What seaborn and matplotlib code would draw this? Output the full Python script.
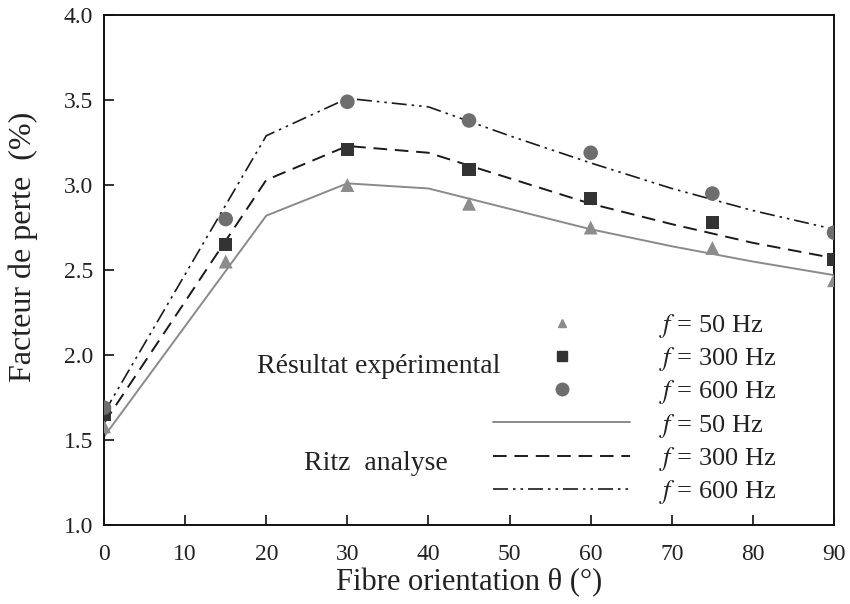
import matplotlib
matplotlib.use("Agg")
import matplotlib.pyplot as plt
import seaborn as sns
from matplotlib.lines import Line2D

# Experimental loss factor (%) versus fibre orientation
theta_exp = [0, 15, 30, 45, 60, 75, 90]
exp_50 = [1.58, 2.55, 3.00, 2.89, 2.75, 2.63, 2.44]
exp_300 = [1.65, 2.65, 3.21, 3.09, 2.92, 2.78, 2.56]
exp_600 = [1.69, 2.80, 3.49, 3.38, 3.19, 2.95, 2.72]

# Ritz analysis curves
theta_ritz = [0, 20, 30, 40, 50, 60, 70, 80, 90]
ritz_50 = [1.52, 2.82, 3.01, 2.98, 2.86, 2.74, 2.64, 2.55, 2.47]
ritz_300 = [1.60, 3.03, 3.23, 3.19, 3.04, 2.89, 2.77, 2.66, 2.57]
ritz_600 = [1.66, 3.29, 3.51, 3.46, 3.29, 3.13, 2.98, 2.85, 2.74]

x_ticks = [0, 10, 20, 30, 40, 50, 60, 70, 80, 90]
y_ticks = [1.0, 1.5, 2.0, 2.5, 3.0, 3.5, 4.0]
freq_labels = ["50 Hz", "300 Hz", "600 Hz"]

sns.set_theme(style="ticks")
plt.rcParams["font.family"] = ["Liberation Serif", "DejaVu Serif"]
plt.rcParams["mathtext.fontset"] = "stix"

fig = plt.figure(figsize=(8.5, 6.04), dpi=100)
ax = fig.add_axes([0.1224, 0.1308, 0.8588, 0.8442])

c_tri = "#8c8c8c"
c_sq = "#333333"
c_circ = "#6e6e6e"
dashdotdot = (0, (9, 3, 1.5, 3, 1.5, 3))

sns.lineplot(x=theta_ritz, y=ritz_50, ax=ax, color="#8a8a8a", lw=1.4)
sns.lineplot(x=theta_ritz, y=ritz_300, ax=ax, color="#1a1a1a", lw=1.4,
             linestyle=(0, (7, 4)))
sns.lineplot(x=theta_ritz, y=ritz_600, ax=ax, color="#1a1a1a", lw=1.2,
             linestyle=dashdotdot)

sns.scatterplot(x=theta_exp, y=exp_50, ax=ax, marker="^", s=100,
                color=c_tri, edgecolor="none", zorder=5)
sns.scatterplot(x=theta_exp, y=exp_300, ax=ax, marker="s", s=90,
                color=c_sq, edgecolor="none", zorder=5)
sns.scatterplot(x=theta_exp, y=exp_600, ax=ax, marker="o", s=110,
                color=c_circ, edgecolor="none", zorder=5)

ax.set_xlim(0, 90)
ax.set_ylim(1.0, 4.0)
ax.set_xticks(x_ticks)
ax.set_yticks(y_ticks)
ax.set_yticklabels([f"{v:.1f}" for v in y_ticks])
ax.tick_params(direction="in", length=7, width=1.3, labelsize=17,
               colors="#222222", pad=8)
ax.tick_params(axis="x", pad=14)
for sp in ax.spines.values():
    sp.set_linewidth(1.4)
    sp.set_color("#111111")

ax.set_xlabel("Fibre orientation θ (°)", fontsize=22, color="#222222",
              labelpad=2)
ax.set_ylabel("Facteur de perte  (%)", fontsize=23, color="#222222")
ax.yaxis.set_label_coords(-0.091, 0.545)

handles = [
    Line2D([], [], ls="none", marker="^", ms=6, color=c_tri),
    Line2D([], [], ls="none", marker="s", ms=7, color=c_sq),
    Line2D([], [], ls="none", marker="o", ms=9, color=c_circ),
    Line2D([], [], color="#8a8a8a", lw=1.4),
    Line2D([], [], color="#1a1a1a", lw=1.4, ls=(0, (7, 4))),
    Line2D([], [], color="#1a1a1a", lw=1.2, ls=dashdotdot),
]
labels = [f"$f$ = {lab}" for lab in freq_labels] * 2
ax.legend(handles, labels, loc="upper left", bbox_to_anchor=(0.533, 0.418),
          frameon=False, fontsize=19, handlelength=5.2, handletextpad=1.1,
          labelspacing=0.2, borderpad=0, borderaxespad=0,
          labelcolor="#222222")

ax.text(33.9, 1.93, "Résultat expérimental", fontsize=20, ha="center",
        va="center", color="#222222")
ax.text(33.5, 1.36, "Ritz  analyse", fontsize=20, ha="center",
        va="center", color="#222222")

fig.savefig("out.png", dpi=100)
